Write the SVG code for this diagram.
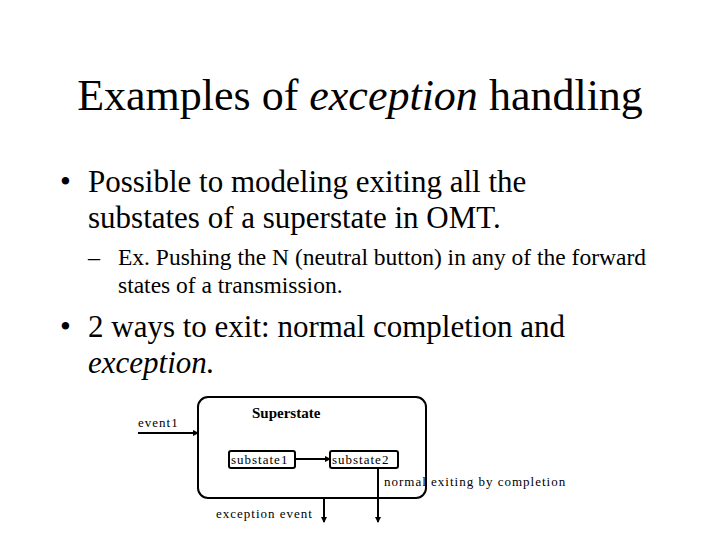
<svg xmlns="http://www.w3.org/2000/svg" width="720" height="540" viewBox="0 0 720 540">
<style>
text{font-family:"Liberation Serif","Times New Roman","DejaVu Serif",serif;fill:#000}
.l{stroke:#000;stroke-width:2;fill:none}
.s{font-size:13px;letter-spacing:1px}
</style>
<defs><marker id="a" markerWidth="6" markerHeight="6" refX="5" refY="3" orient="auto" markerUnits="userSpaceOnUse"><path d="M0,0L6,3L0,6z"/></marker></defs>
<rect width="720" height="540" fill="#fff"/>
<text x="360" y="110" font-size="44" text-anchor="middle">Examples of <tspan font-style="italic">exception</tspan> handling</text>
<text x="60" y="192" font-size="31">•</text>
<text x="88" y="192" font-size="31">Possible to modeling exiting all the</text>
<text x="88" y="228" font-size="31">substates of a superstate in OMT.</text>
<text x="88" y="265" font-size="24">–</text>
<text x="118" y="265" font-size="23.5">Ex. Pushing the N (neutral button) in any of the forward</text>
<text x="118" y="293" font-size="23.5">states of a transmission.</text>
<text x="60" y="337" font-size="31">•</text>
<text x="88" y="337" font-size="31">2 ways to exit:  normal completion and</text>
<text x="88" y="373" font-size="31" font-style="italic">exception.</text>
<g id="superstate"><rect class="l" x="198" y="397" width="228" height="101" rx="10"/><text x="252" y="418" font-size="15" font-weight="bold">Superstate</text></g>
<g id="substate1"><rect class="l" x="229" y="451" width="66" height="17" rx="2"/><text x="231" y="464" class="s">substate1</text></g>
<g id="substate2"><rect class="l" x="330" y="451" width="68" height="17" rx="2"/><text x="332" y="464" class="s">substate2</text></g>
<g id="connectors">
<line class="l" x1="138" y1="433" x2="198" y2="433" marker-end="url(#a)"/>
<line class="l" x1="295" y1="459" x2="330" y2="459" marker-end="url(#a)"/>
<line class="l" x1="378" y1="468" x2="378" y2="522" marker-end="url(#a)"/>
<line class="l" x1="324" y1="498" x2="324" y2="522" marker-end="url(#a)"/>
</g>
<text x="138" y="427" class="s">event1</text>
<text x="384" y="486" class="s">normal exiting by completion</text>
<text x="216" y="518" class="s">exception event</text>
</svg>
